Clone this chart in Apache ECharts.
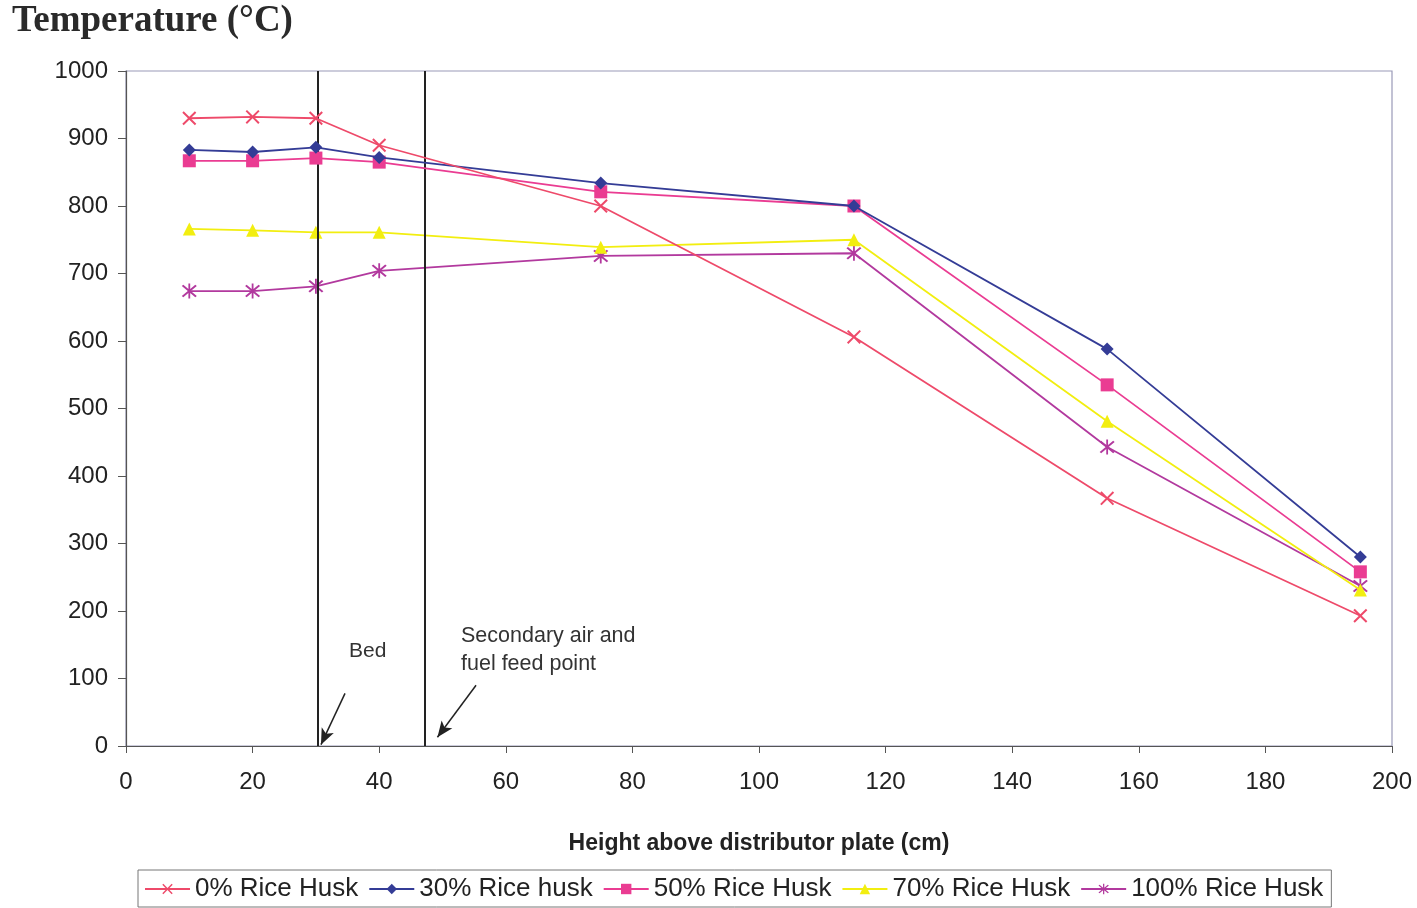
<!DOCTYPE html>
<html><head><meta charset="utf-8">
<script src="https://cdn.jsdelivr.net/npm/echarts@6/dist/echarts.min.js"></script>
<style>html,body{margin:0;padding:0;background:#fff}#c{width:1417px;height:908px}</style>
</head><body><div id="c"></div>
<script>
const heights = [10, 20, 30, 40, 75, 115, 155, 195];
const seriesNames = ['0% Rice Husk', '30% Rice husk', '50% Rice Husk', '70% Rice Husk', '100% Rice Husk'];
const rh0 = [930, 932, 930, 890, 800, 606, 367, 193];
const rh30 = [883, 880, 887, 872, 834, 800, 588, 280];
const rh50 = [867, 867, 871, 865, 821, 800, 535, 258];
const rh70 = [766, 764, 761, 761, 739, 750, 481, 231];
const rh100 = [674, 674, 681, 704, 726, 730, 443, 237];
const markerLines = [30.3, 47.2];
const bedArrow = [[34.6, 78], [30.8, 2]];
const feedArrow = [[55.3, 90], [49.2, 13]];

const colors = ['#ee4a6a', '#343c96', '#ea3c92', '#f2ee10', '#b2399e'];
const crossPath = 'path://M0,1L1,0L5,4L9,0L10,1L6,5L10,9L9,10L5,6L1,10L0,9L4,5Z';
const starPath = 'path://M0,1L1,0L5,4L9,0L10,1L6,5L10,9L9,10L5,6L1,10L0,9L4,5Z M4.4,-1L5.6,-1L5.6,11L4.4,11Z';
const symbols = [crossPath, 'diamond', 'rect', 'triangle', starPath];
const sizes = [14, 13, 13, 13, 15];
const dataSets = [rh0, rh30, rh50, rh70, rh100];

const series = dataSets.map((d, i) => ({
  name: seriesNames[i],
  type: 'line',
  data: heights.map((h, j) => [h, d[j]]),
  symbol: symbols[i],
  symbolSize: sizes[i],
  showSymbol: true,
  lineStyle: { color: colors[i], width: 1.8 },
  itemStyle: { color: colors[i] },
  z: 5 - i + 2
}));

series.push({
  name: 'annot',
  type: 'line',
  data: [],
  silent: true,
  markLine: {
    silent: true,
    symbol: ['none', 'none'],
    label: { show: false },
    lineStyle: { color: '#222', width: 2, type: 'solid' },
    data: markerLines.map(v => ({ xAxis: v }))
  }
});
series.push({
  name: 'arrows',
  type: 'line',
  data: [],
  silent: true,
  markLine: {
    silent: true,
    symbol: ['none', 'arrow'],
    symbolSize: [10, 16],
    label: { show: false },
    lineStyle: { color: '#222', width: 1.5, type: 'solid' },
    data: [
      [{ coord: bedArrow[0] }, { coord: bedArrow[1] }],
      [{ coord: feedArrow[0] }, { coord: feedArrow[1] }]
    ]
  }
});

const chart = echarts.init(document.getElementById('c'), null, { renderer: 'canvas' });
chart.setOption({
  animation: false,
  backgroundColor: '#fff',
  grid: { left: 126, right: 25, top: 71, bottom: 162, show: true, borderColor: '#9a9ab8', borderWidth: 1.2, containLabel: false },
  xAxis: {
    type: 'value', min: 0, max: 200, interval: 20,
    name: 'Height above distributor plate (cm)',
    nameLocation: 'middle', nameGap: 86,
    nameTextStyle: { fontFamily: 'Liberation Sans', fontWeight: 'bold', fontSize: 23, color: '#222' },
    axisLine: { show: true, lineStyle: { color: '#555', width: 1.2 } },
    axisTick: { show: true, length: 7, lineStyle: { color: '#555' } },
    axisLabel: { fontFamily: 'Liberation Sans', fontSize: 24, color: '#222', margin: 24 },
    splitLine: { show: false }
  },
  yAxis: {
    type: 'value', min: 0, max: 1000, interval: 100,
    axisLine: { show: true, lineStyle: { color: '#555', width: 1.2 } },
    axisTick: { show: true, length: 8, lineStyle: { color: '#555' } },
    axisLabel: { fontFamily: 'Liberation Sans', fontSize: 24, color: '#222', margin: 18, formatter: v => String(v) },
    splitLine: { show: false }
  },
  legend: {
    data: seriesNames,
    left: 138, bottom: 1,
    padding: [6, 8, 5, 6],
    itemGap: 10,
    itemWidth: 45, itemHeight: 13,
    borderColor: '#777', borderWidth: 1,
    textStyle: { fontFamily: 'Liberation Sans', fontSize: 26, color: '#222' }
  },
  graphic: [
    { type: 'text', left: 12, top: 3, style: { text: 'Temperature (°C)', font: 'bold 37px "Liberation Serif"', fill: '#2a2a2a' } },
    { type: 'text', left: 349, top: 641, style: { text: 'Bed', font: '21px "Liberation Sans"', fill: '#333' } },
    { type: 'text', left: 461, top: 622, style: { text: 'Secondary air and\nfuel feed point', font: '21.5px "Liberation Sans"', fill: '#333', lineHeight: 28 } }
  ],
  series: series
});
</script></body></html>
